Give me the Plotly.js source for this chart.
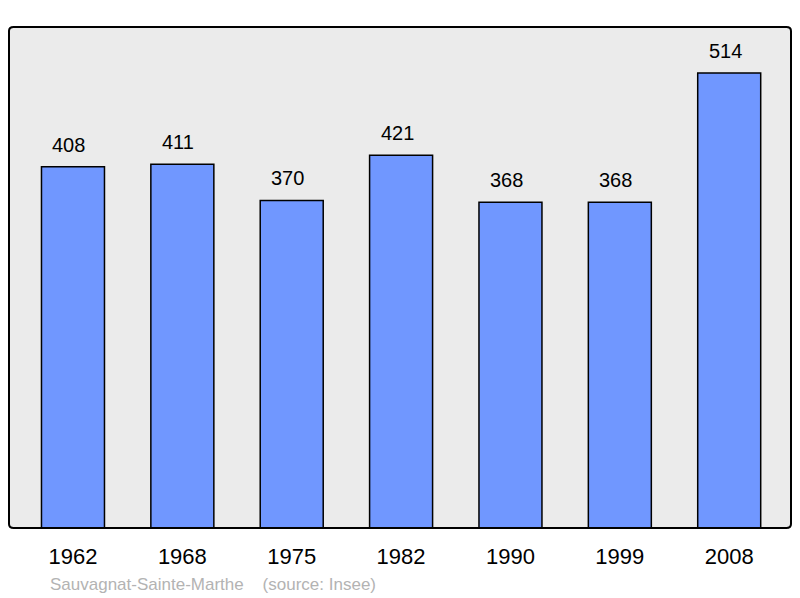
<!DOCTYPE html>
<html>
<head>
<meta charset="utf-8">
<script src="https://cdn.plot.ly/plotly-3.0.1.min.js"></script>
<style>
  html, body { margin: 0; padding: 0; background: #fff; }
  #chart { width: 800px; height: 598px; }
</style>
</head>
<body>
<div id="chart"></div>
<script>
// population by census year
const years = ['1962', '1968', '1975', '1982', '1990', '1999', '2008']
const population = [408, 411, 370, 421, 368, 368, 514]
const commune = 'Sauvagnat-Sainte-Marthe'
const source = '(source: Insee)'

const font = 'Liberation Sans, Arial, sans-serif'

const trace = {
  x: years,
  y: population,
  type: 'bar',
  width: 0.576,
  marker: {
    color: '#7097ff',
    line: { color: '#000', width: 1.5 }
  },
  hoverinfo: 'skip'
}

// value labels above each bar (x by category index, numeric-looking names confuse annotations)
const labels = years.map((yr, i) => ({
  x: i,
  y: population[i],
  text: String(population[i]),
  showarrow: false,
  yanchor: 'bottom',
  yshift: 9,
  xshift: -4,
  font: { family: font, size: 20, color: '#000' }
}))

labels.push({
  xref: 'paper', yref: 'paper',
  x: 0.0495, y: -0.112,
  xanchor: 'left', yanchor: 'middle',
  text: commune + '    ' + source,
  showarrow: false,
  font: { family: font, size: 17, color: '#b3b3b3' }
})

const layout = {
  width: 800,
  height: 598,
  margin: { l: 9, r: 9, t: 27, b: 70 },
  paper_bgcolor: '#fff',
  plot_bgcolor: '#ebebeb',
  showlegend: false,
  xaxis: {
    type: 'category',
    range: [-0.585, 6.565],
    showgrid: false,
    zeroline: false,
    showline: false,
    ticks: 'outside',
    ticklen: 9,
    tickcolor: 'rgba(0,0,0,0)',
    tickfont: { family: font, size: 22, color: '#000' },
    fixedrange: true
  },
  yaxis: {
    range: [0, 566],
    showgrid: false,
    zeroline: false,
    showticklabels: false,
    ticks: '',
    fixedrange: true
  },
  annotations: labels,
  shapes: [{
    type: 'path',
    xref: 'paper', yref: 'paper',
    path: 'M 0.006,0 L 0.994,0 Q 1,0 1,0.008 L 1,0.992 Q 1,1 0.994,1 L 0.006,1 Q 0,1 0,0.992 L 0,0.008 Q 0,0 0.006,0 Z',
    line: { color: '#000', width: 2 },
    layer: 'above'
  }]
}

Plotly.newPlot('chart', [trace], layout, { staticPlot: true })
</script>
</body>
</html>
